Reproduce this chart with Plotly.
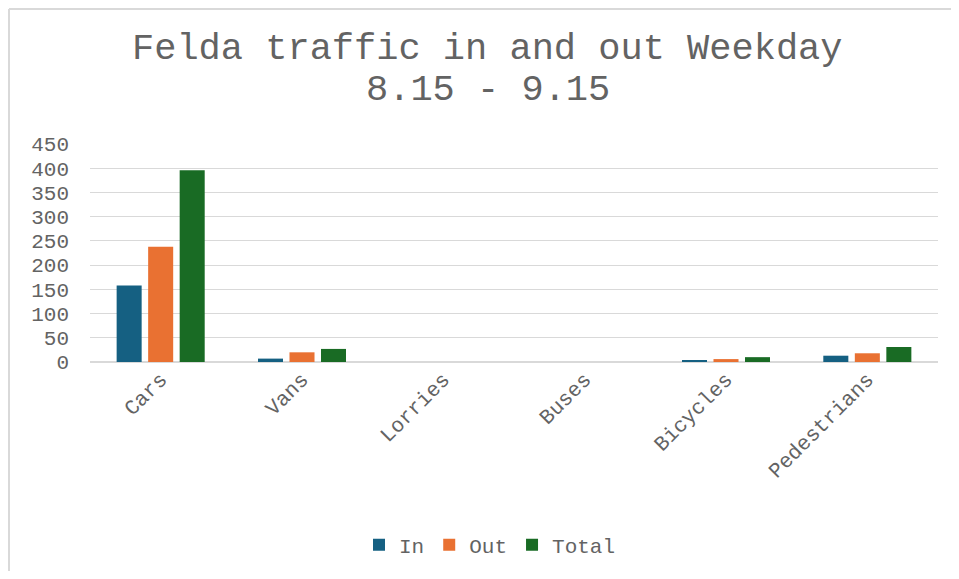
import plotly.graph_objects as go

categories = ["Cars", "Vans", "Lorries", "Buses", "Bicycles", "Pedestrians"]
in_values = [158, 7, 0, 0, 4, 13]
out_values = [238, 20, 0, 0, 6, 18]
total_values = [396, 27, 0, 0, 10, 31]
series_names = ["In", "Out", "Total"]
series_colors = ["#156082", "#E97132", "#196B24"]
title_line1 = "Felda traffic in and out Weekday"
title_line2 = "8.15 - 9.15"

FONT = "Liberation Mono, Courier New, monospace"
TXT = "#636363"

OFF = 8  # page body margin
W, H = 959 - 2 * OFF, 579 - 2 * OFF
PLOT_L, PLOT_R, PLOT_T, PLOT_B = 90, 938, 144, 362  # window pixels
L, T = PLOT_L - OFF, PLOT_T - OFF
R = W - (PLOT_R - OFF)
B = H - (PLOT_B - OFF)
PH = H - T - B
PW = W - L - R

def py(pix):
    return ((H - B) - (pix - OFF)) / PH

def px(pix):
    return ((pix - OFF) - L) / PW

def cy(pix):
    return 1 - (pix - OFF) / H

def cx(pix):
    return (pix - OFF) / W

fig = go.Figure()
for name, vals, col in zip(series_names, [in_values, out_values, total_values], series_colors):
    fig.add_trace(go.Bar(x=categories, y=vals, name=name, marker=dict(color=col, line=dict(width=0))))

fig.update_layout(
    width=W, height=H,
    margin=dict(l=L, r=R, t=T, b=B, pad=0, autoexpand=False),
    paper_bgcolor="white", plot_bgcolor="white",
    barmode="group", bargap=0.331, bargroupgap=0.206,
    font=dict(family=FONT, color=TXT, size=21),
    showlegend=True,
    legend=dict(orientation="h", xref="container", yref="container", x=cx(490), xanchor="center",
                y=cy(545), yanchor="middle",
                font=dict(size=21, color=TXT), itemwidth=30, traceorder="normal"),
    xaxis=dict(tickangle=-45, tickfont=dict(size=21, color=TXT), showgrid=False,
               showline=False, ticks="", fixedrange=True, automargin=False),
    yaxis=dict(range=[0, 450], dtick=50, tickfont=dict(size=21, color=TXT),
               showgrid=True, gridcolor="#d9d9d9", gridwidth=1.3,
               zeroline=True, zerolinecolor="#d9d9d9", zerolinewidth=2,
               showline=False, ticks="", ticklabelstandoff=20, fixedrange=True, automargin=False),
    annotations=[
        dict(text=title_line1, xref="paper", yref="paper", x=px(487.5), y=py(49), xanchor="center",
             yanchor="middle", showarrow=False, font=dict(size=37, color=TXT, family=FONT)),
        dict(text=title_line2, xref="paper", yref="paper", x=px(488), y=py(90), xanchor="center",
             yanchor="middle", showarrow=False, font=dict(size=37, color=TXT, family=FONT)),
    ],
    shapes=[
        dict(type="line", xref="paper", yref="paper", x0=px(9), x1=px(9), y0=py(600), y1=py(9),
             line=dict(color="#d9d9d9", width=2), layer="below"),
        dict(type="line", xref="paper", yref="paper", x0=px(9), x1=px(951), y0=py(9), y1=py(9),
             line=dict(color="#d9d9d9", width=2), layer="below"),
    ],
)

fig.write_html("out.html")
